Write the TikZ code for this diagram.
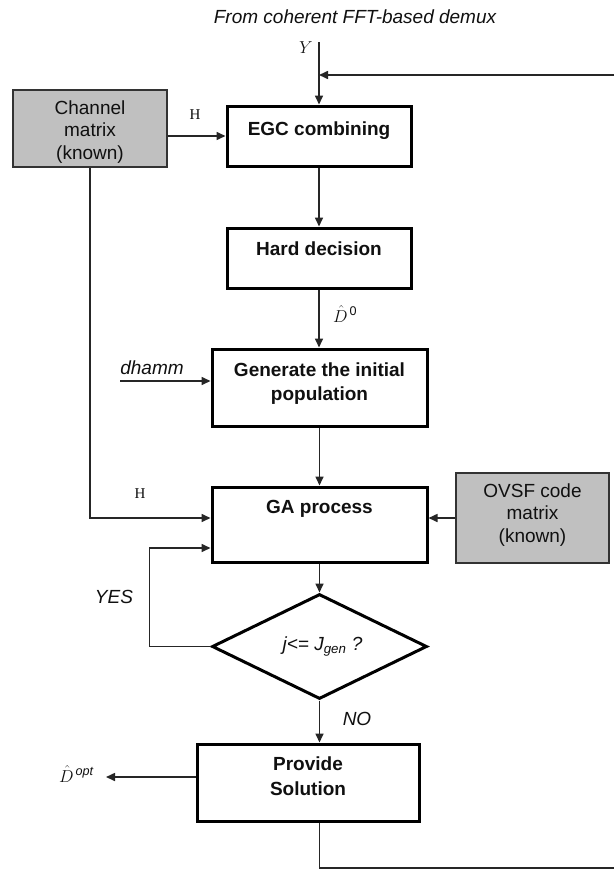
\documentclass[tikz,border=0pt]{standalone}
\usepackage{fontspec}
\setmainfont{Liberation Sans}
\newfontfamily\labelserif{Liberation Serif}
\usetikzlibrary{arrows.meta,shapes.geometric,calc}
\definecolor{lineclr}{HTML}{262626}
\definecolor{knownfill}{HTML}{C0C0C0}
\definecolor{inkclr}{HTML}{101010}

\begin{document}
\begin{tikzpicture}[x=1pt,y=-1pt,
  every node/.style={text=inkclr, inner sep=0pt},
  procbox/.style={draw=black, line width=3pt, fill=white, align=center,
    font=\fontsize{19}{24}\selectfont\bfseries},
  knownbox/.style={draw=black!80, line width=1.8pt, fill=knownfill, align=center,
    font=\fontsize{19}{22.5}\selectfont},
  decision/.style={diamond, draw=black, line width=3pt, fill=white,
    minimum width=215pt, minimum height=105pt, inner sep=0pt,
    font=\fontsize{19}{19}\selectfont\itshape},
  flow/.style={draw=lineclr, line width=1.6pt, -{Triangle[length=9pt,width=8pt]}},
  plain/.style={draw=lineclr, line width=1.6pt},
  sig/.style={font=\labelserif\fontsize{15}{15}\selectfont},
  mathlbl/.style={font=\fontsize{18}{18}\selectfont},
  ital/.style={font=\fontsize{19}{19}\selectfont\itshape},
]
\fill[white] (0,0) rectangle (614,870);
\useasboundingbox (0,0) rectangle (614,870);

% source of the received signal
\node[ital] (src) at (355,17) {From coherent FFT-based demux};

% main processing chain
\node[procbox, minimum width=184pt, minimum height=60pt, text depth=15.6pt]
  (egc) at (319,136) {EGC combining};
\node[procbox, minimum width=184pt, minimum height=60pt, text depth=19.6pt]
  (hard) at (319,258) {Hard decision};
\node[procbox, minimum width=215pt, minimum height=77pt, text depth=12pt]
  (gen) at (319.5,387.5) {Generate the initial\\population};
\node[procbox, minimum width=215pt, minimum height=75pt, text depth=34.6pt]
  (ga) at (319.5,524.5) {GA process};
\node[decision] (dia) at (319.5,646.5) {\hspace*{6pt}j<= J\textsubscript{gen} ?};
\node[procbox, minimum width=222pt, minimum height=77pt, text depth=13.6pt,
  font=\fontsize{19}{25}\selectfont\bfseries]
  (prov) at (308,782.5) {Provide\\Solution};

% known side inputs
\node[knownbox, minimum width=154pt, minimum height=77pt,
  text height=61pt, text depth=0pt]
  (chan) at (90,128.5) {Channel\\matrix\\(known)};
\node[knownbox, minimum width=153pt, minimum height=90pt,
  text height=52pt, text depth=4pt]
  (ovsf) at (532.5,518) {OVSF code\\matrix\\(known)};

% signal labels
\node[font=\fontsize{16}{16}\selectfont] (ylab) at (306,48) {$Y$};
\node[sig] (hlab1) at (195,115) {H};
\node[sig] (hlab2) at (140,494) {H};
\node[mathlbl, anchor=base west] (dzero) at (333,322) {$\hat{D}^{\,\mathrm{0}}$};
\node[ital] (dhlab) at (152,368) {dhamm};
\node[ital] (yes) at (114,597) {YES};
\node[ital] (no) at (357,719) {NO};
\node[mathlbl, anchor=base west] (dopt) at (59,782) {$\hat{D}^{\,\mathit{opt}}$};

% free ends of the connectors
\coordinate (yin) at (319,42);
\coordinate (fbtop) at (614,75);
\coordinate (dhin) at (120,381);
\coordinate (outsol) at (106,777);
\coordinate (fbbot) at (614,868);

% connectors
\draw[flow] (yin) -- (egc.north);
\draw[flow] (fbtop) -- (fbtop -| egc.north);
\draw[flow] (chan.east |- egc.west) -- (egc.west);
\draw[flow] (egc.south) -- (hard.north);
\draw[flow] (hard.south) -- (hard.south |- gen.north);
\draw[flow] (dhin) -- (dhin -| gen.west);
\draw[flow] (gen.south) -- (ga.north);
\draw[flow] (chan.south) |- ($(ga.west)+(0,-6.5)$);
\draw[flow] (ovsf.west) -- (ovsf.west -| ga.east);
\draw[flow] (ga.south) -- (dia.north);
\draw[flow] (dia.west) -- ++(-61,0) |- ($(ga.west)+(0,23.5)$);
\draw[flow] (dia.south) -- (dia.south |- prov.north);
\draw[flow] (prov.west |- outsol) -- (outsol);
\draw[plain] (dia.south |- prov.south) |- (fbbot);
\end{tikzpicture}
\end{document}
